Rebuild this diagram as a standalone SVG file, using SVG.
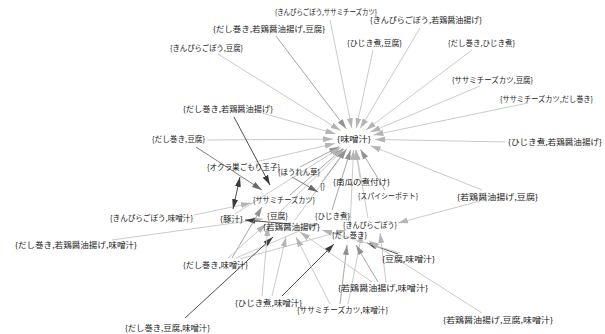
<svg xmlns="http://www.w3.org/2000/svg" width="605" height="334" viewBox="0 0 605 334">
<style>
text{font-family:"Noto Sans CJK JP","Noto Sans",sans-serif;font-size:7.5px;fill:#222}
line{stroke-width:0.9;fill:none}
.l1{stroke:#c4c4c4;marker-end:url(#a1)}
.l2{stroke:#9c9c9c;marker-end:url(#a2)}
.l3{stroke:#707070;marker-end:url(#a3)}
.l4{stroke:#3c3c3c;marker-end:url(#a4)}
.bi{marker-start:url(#a4)}
</style>
<defs>
<marker id="a1" viewBox="0 0 10 6" refX="10" refY="3" markerWidth="10" markerHeight="7" markerUnits="userSpaceOnUse" orient="auto-start-reverse"><path d="M0,0L10,3L0,6z" fill="#b4b4b4"/></marker>
<marker id="a2" viewBox="0 0 10 6" refX="10" refY="3" markerWidth="10" markerHeight="7" markerUnits="userSpaceOnUse" orient="auto-start-reverse"><path d="M0,0L10,3L0,6z" fill="#929292"/></marker>
<marker id="a3" viewBox="0 0 10 6" refX="10" refY="3" markerWidth="10" markerHeight="7" markerUnits="userSpaceOnUse" orient="auto-start-reverse"><path d="M0,0L10,3L0,6z" fill="#6a6a6a"/></marker>
<marker id="a4" viewBox="0 0 10 6" refX="10" refY="3" markerWidth="10" markerHeight="7" markerUnits="userSpaceOnUse" orient="auto-start-reverse"><path d="M0,0L10,3L0,6z" fill="#3a3a3a"/></marker>
</defs>
<rect width="605" height="334" fill="#fff"/>
<g id="edges">
<line class="l1" x1="330" y1="20" x2="351.8" y2="128.1"/>
<line class="l1" x1="420" y1="28" x2="360.2" y2="128.5"/>
<line class="l2" x1="276" y1="36" x2="346.3" y2="128.8"/>
<line class="l1" x1="373" y1="50" x2="356.3" y2="128.1"/>
<line class="l1" x1="472" y1="50" x2="366" y2="130"/>
<line class="l1" x1="218" y1="54" x2="340.5" y2="130.6"/>
<line class="l1" x1="480" y1="86" x2="370.4" y2="132.1"/>
<line class="l1" x1="528" y1="103" x2="373.5" y2="135"/>
<line class="l1" x1="262" y1="113" x2="335.5" y2="133.8"/>
<line class="l1" x1="207" y1="140" x2="333" y2="139.1"/>
<line class="l1" x1="505" y1="142" x2="375" y2="139.4"/>
<line class="l1" x1="482" y1="190" x2="370.7" y2="145.7"/>
<line class="l2" x1="290" y1="195" x2="343.2" y2="148.4"/>
<line class="l1" x1="280" y1="212" x2="344.2" y2="148.7"/>
<line class="l1" x1="295" y1="220" x2="346.5" y2="149.3"/>
<line class="l2" x1="332" y1="210" x2="350.6" y2="149.9"/>
<line class="l1" x1="368" y1="218" x2="355.9" y2="150"/>
<line class="l1" x1="350" y1="228" x2="353.5" y2="150"/>
<line class="l2" x1="385" y1="190" x2="360.4" y2="149.5"/>
<line class="l1" x1="360" y1="178" x2="355.8" y2="150"/>
<line class="l2" x1="322" y1="182" x2="346.4" y2="149.2"/>
<line class="l2" x1="300" y1="167" x2="339.1" y2="146.7"/>
<line class="l1" x1="255" y1="162" x2="334.8" y2="143.5"/>
<line class="l1" x1="235" y1="214" x2="340.6" y2="147.5"/>
<line class="l1" x1="112" y1="240" x2="263" y2="219"/>
<line class="l1" x1="194" y1="215" x2="251" y2="203"/>
<line class="l4" x1="291" y1="224" x2="245" y2="220"/>
<line class="l2" x1="232" y1="258" x2="262" y2="207"/>
<line class="l1" x1="236" y1="258" x2="318" y2="223"/>
<line class="l1" x1="240" y1="259" x2="346" y2="230"/>
<line class="l1" x1="228" y1="258" x2="266" y2="224"/>
<line class="l4" x1="185" y1="318" x2="273" y2="237"/>
<line class="l1" x1="262" y1="296" x2="268" y2="226"/>
<line class="l1" x1="272" y1="296" x2="286" y2="237"/>
<line class="l4" x1="282" y1="296" x2="334" y2="244"/>
<line class="l1" x1="330" y1="304" x2="296" y2="237"/>
<line class="l2" x1="340" y1="304" x2="347" y2="245"/>
<line class="l1" x1="348" y1="304" x2="362" y2="233"/>
<line class="l1" x1="372" y1="282" x2="300" y2="232"/>
<line class="l2" x1="378" y1="282" x2="356" y2="245"/>
<line class="l1" x1="386" y1="282" x2="380" y2="233"/>
<line class="l4" x1="398" y1="254" x2="367" y2="243"/>
<line class="l1" x1="400" y1="253" x2="322" y2="230"/>
<line class="l1" x1="482" y1="313" x2="369" y2="241"/>
<line class="l1" x1="480" y1="201" x2="398" y2="223"/>
<line class="l4" x1="234" y1="117" x2="270" y2="185"/>
<line class="l3" x1="196" y1="147" x2="262" y2="190"/>
<line class="l4 bi" x1="240" y1="177" x2="233" y2="209"/>
<line class="l3" x1="292" y1="177" x2="318" y2="192"/>
</g>
<g id="n1"><text x="275" y="15" textLength="102" lengthAdjust="spacingAndGlyphs">{きんぴらごぼう,ササミチーズカツ}</text></g>
<g id="n2"><text x="370" y="23" textLength="112" lengthAdjust="spacingAndGlyphs">{きんぴらごぼう,若鶏醤油揚げ}</text></g>
<g id="n3"><text x="213" y="32" textLength="112" lengthAdjust="spacingAndGlyphs">{だし巻き,若鶏醤油揚げ,豆腐}</text></g>
<g id="n4"><text x="347" y="46" textLength="55" lengthAdjust="spacingAndGlyphs">{ひじき煮,豆腐}</text></g>
<g id="n5"><text x="448" y="46" textLength="67" lengthAdjust="spacingAndGlyphs">{だし巻き,ひじき煮}</text></g>
<g id="n6"><text x="170" y="51" textLength="73" lengthAdjust="spacingAndGlyphs">{きんぴらごぼう,豆腐}</text></g>
<g id="n7"><text x="452" y="83" textLength="81" lengthAdjust="spacingAndGlyphs">{ササミチーズカツ,豆腐}</text></g>
<g id="n8"><text x="500" y="102" textLength="93" lengthAdjust="spacingAndGlyphs">{ササミチーズカツ,だし巻き}</text></g>
<g id="n9"><text x="183" y="112" textLength="90" lengthAdjust="spacingAndGlyphs">{だし巻き,若鶏醤油揚げ}</text></g>
<g id="n10"><text x="152" y="142" textLength="53" lengthAdjust="spacingAndGlyphs">{だし巻き,豆腐}</text></g>
<g id="n11"><text x="337" y="142" textLength="34" lengthAdjust="spacingAndGlyphs">{味噌汁}</text></g>
<g id="n12"><text x="508" y="145" textLength="94" lengthAdjust="spacingAndGlyphs">{ひじき煮,若鶏醤油揚げ}</text></g>
<g id="n13"><text x="207" y="170" textLength="73" lengthAdjust="spacingAndGlyphs">{オクラ巣ごもり玉子}</text></g>
<g id="n14"><text x="278" y="175" textLength="42" lengthAdjust="spacingAndGlyphs">{ほうれん草}</text></g>
<g id="n15"><text x="333" y="185" textLength="57" lengthAdjust="spacingAndGlyphs">{南瓜の煮付け}</text></g>
<g id="n16"><text x="320" y="189" textLength="5" lengthAdjust="spacingAndGlyphs">{}</text></g>
<g id="n17"><text x="358" y="199" textLength="60" lengthAdjust="spacingAndGlyphs">{スパイシーポテト}</text></g>
<g id="n18"><text x="457" y="200" textLength="81" lengthAdjust="spacingAndGlyphs">{若鶏醤油揚げ,豆腐}</text></g>
<g id="n19"><text x="253" y="203" textLength="62" lengthAdjust="spacingAndGlyphs">{ササミチーズカツ}</text></g>
<g id="n20"><text x="315" y="219" textLength="35" lengthAdjust="spacingAndGlyphs">{ひじき煮}</text></g>
<g id="n21"><text x="267" y="219" textLength="21" lengthAdjust="spacingAndGlyphs">{豆腐}</text></g>
<g id="n22"><text x="110" y="221" textLength="83" lengthAdjust="spacingAndGlyphs">{きんぴらごぼう,味噌汁}</text></g>
<g id="n23"><text x="220" y="222" textLength="23" lengthAdjust="spacingAndGlyphs">{豚汁}</text></g>
<g id="n24"><text x="343" y="228" textLength="54" lengthAdjust="spacingAndGlyphs">{きんぴらごぼう}</text></g>
<g id="n25"><text x="263" y="229.5" textLength="57" lengthAdjust="spacingAndGlyphs">{若鶏醤油揚げ}</text></g>
<g id="n26"><text x="332" y="238" textLength="35" lengthAdjust="spacingAndGlyphs">{だし巻き}</text></g>
<g id="n27"><text x="15" y="248" textLength="122" lengthAdjust="spacingAndGlyphs">{だし巻き,若鶏醤油揚げ,味噌汁}</text></g>
<g id="n28"><text x="382" y="262" textLength="53" lengthAdjust="spacingAndGlyphs">{豆腐,味噌汁}</text></g>
<g id="n29"><text x="183" y="268" textLength="65" lengthAdjust="spacingAndGlyphs">{だし巻き,味噌汁}</text></g>
<g id="n30"><text x="338" y="291" textLength="90" lengthAdjust="spacingAndGlyphs">{若鶏醤油揚げ,味噌汁}</text></g>
<g id="n31"><text x="235" y="306" textLength="67" lengthAdjust="spacingAndGlyphs">{ひじき煮,味噌汁}</text></g>
<g id="n32"><text x="297" y="313" textLength="91" lengthAdjust="spacingAndGlyphs">{ササミチーズカツ,味噌汁}</text></g>
<g id="n33"><text x="443" y="323" textLength="110" lengthAdjust="spacingAndGlyphs">{若鶏醤油揚げ,豆腐,味噌汁}</text></g>
<g id="n34"><text x="125" y="331" textLength="85" lengthAdjust="spacingAndGlyphs">{だし巻き,豆腐,味噌汁}</text></g>
</svg>
